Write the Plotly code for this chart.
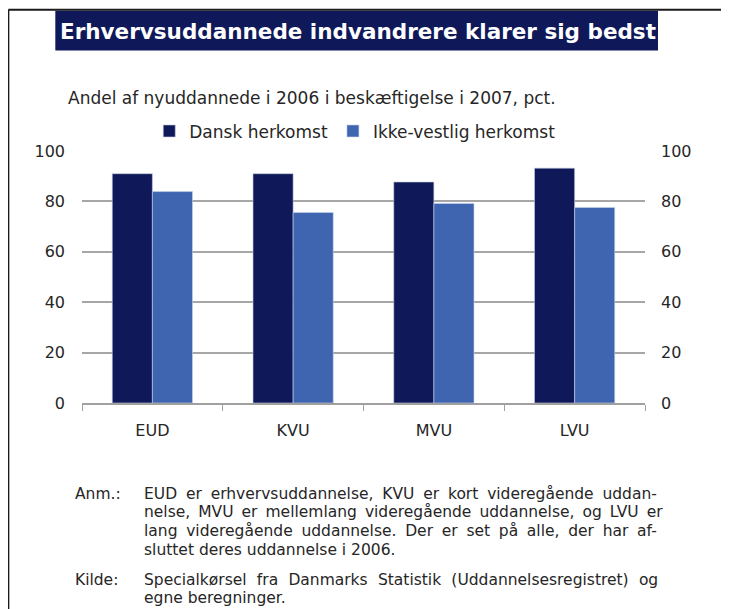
import plotly.graph_objects as go

categories = ["EUD", "KVU", "MVU", "LVU"]
dansk = [91.0, 91.0, 87.7, 93.2]
ikke_vestlig = [83.9, 75.6, 79.2, 77.6]
series_names = ["Dansk herkomst", "Ikke-vestlig herkomst"]
y_ticks = [0, 20, 40, 60, 80, 100]

OFF = 8  # page body margin
W, H = 729 - OFF, 609 - OFF
L, R = 81.7 - OFF, 645 - OFF
T, B = 150.7 - OFF, 403.5 - OFF

def px(x):  # page x -> paper
    return (x - OFF - L) / (R - L)

def py(y):  # page y -> paper
    return (B - (y - OFF)) / (B - T)

FONT = "DejaVu Sans, sans-serif"
DARK = "#0f195a"
LIGHT = "#3f65b0"
TXT = "#262626"

fig = go.Figure()
fig.add_trace(go.Bar(x=categories, y=dansk, name=series_names[0],
                     marker=dict(color=DARK, line=dict(color="#c8cce0", width=0.6))))
fig.add_trace(go.Bar(x=categories, y=ikke_vestlig, name=series_names[1],
                     marker=dict(color=LIGHT, line=dict(color="#c8d4ec", width=0.6))))
fig.add_trace(go.Scatter(x=categories, y=dansk, yaxis="y2", mode="markers",
                         marker=dict(opacity=0), showlegend=False, hoverinfo="skip"))

fig.update_layout(
    width=W, height=H,
    margin=dict(l=L, r=W - R, t=T, b=H - B, pad=0),
    paper_bgcolor="white", plot_bgcolor="white",
    font=dict(family=FONT, size=16, color=TXT),
    barmode="group", bargap=0.43, bargroupgap=0,
    showlegend=True,
    legend=dict(orientation="h", x=px(149), y=py(113), xanchor="left", yanchor="top",
                font=dict(size=17), tracegroupgap=0, bgcolor="rgba(0,0,0,0)"),
    xaxis=dict(showline=True, linecolor="#a0a0a0", linewidth=1.5,
               ticks="outside", tickson="boundaries", ticklen=6, tickcolor="#a0a0a0",
               showgrid=False, tickfont=dict(size=16), ticklabelstandoff=12),
    yaxis=dict(range=[0, 100], tickvals=y_ticks, showgrid=True, gridcolor="#a6a6a6",
               gridwidth=1.5, zeroline=False, showline=False, ticks="",
               tickfont=dict(size=16), ticklabelstandoff=16),
    yaxis2=dict(range=[0, 100], tickvals=y_ticks, overlaying="y", side="right",
                showgrid=False, zeroline=False, showline=False, ticks="",
                tickfont=dict(size=16), ticklabelstandoff=15),
)

shapes = [
    # frame (left and top edges)
    dict(type="line", xref="paper", yref="paper", x0=px(8), x1=px(8), y0=py(9), y1=py(700),
         line=dict(color="#1a1a1a", width=2)),
    dict(type="line", xref="paper", yref="paper", x0=px(8), x1=px(760), y0=py(9), y1=py(9),
         line=dict(color="#1a1a1a", width=2)),
    # title box
    dict(type="rect", xref="paper", yref="paper", x0=px(55), x1=px(658), y0=py(50), y1=py(10),
         line=dict(width=0), fillcolor=DARK, layer="below"),
]
fig.update_layout(shapes=shapes)

ann = []
ann.append(dict(text="<b>Erhvervsuddannede indvandrere klarer sig bedst</b>", x=px(357.5), y=py(31),
                xref="paper", yref="paper", showarrow=False, xanchor="center", yanchor="middle",
                font=dict(family=FONT, size=21.5, color="white")))
ann.append(dict(text="Andel af nyuddannede i 2006 i beskæftigelse i 2007, pct.", x=px(66), y=py(98),
                xref="paper", yref="paper", showarrow=False, xanchor="left", yanchor="middle",
                font=dict(size=17)))
note_lines = [
    ("Anm.:", "EUD er erhvervsuddannelse, KVU er kort videregående uddan-", 495, 3.9),
    ("", "nelse, MVU er mellemlang videregående uddannelse, og LVU er", 513, 3.1),
    ("", "lang videregående uddannelse. Der er set på alle, der har af-", 532, 3.8),
    ("", "sluttet deres uddannelse i 2006.", 551, 0),
    ("Kilde:", "Specialkørsel fra Danmarks Statistik (Uddannelsesregistret) og", 581.5, 5.3),
    ("", "egne beregninger.", 599.5, 0),
]
NF = 15.5
for lab, txt, yy, ws in note_lines:
    if lab:
        ann.append(dict(text=lab, x=px(73), y=py(yy), xref="paper", yref="paper", showarrow=False,
                        xanchor="left", yanchor="middle", font=dict(size=NF)))
    t = f'<span style="word-spacing:{ws}px">{txt}</span>' if ws else txt
    ann.append(dict(text=t, x=px(142), y=py(yy), xref="paper", yref="paper", showarrow=False,
                    xanchor="left", yanchor="middle", font=dict(size=NF)))
fig.update_layout(annotations=ann)

fig.write_html("out.html")
